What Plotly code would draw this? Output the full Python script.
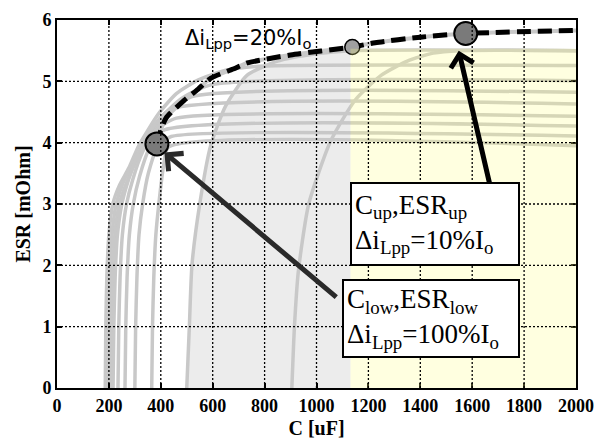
import plotly.graph_objects as go

# ---- data ----
curve_A_C = [186, 188, 192, 200, 215, 240, 277, 315, 391, 460, 543, 650, 800, 2000]
curve_A_E = [0, 1, 1.8, 2.5, 3.0, 3.3, 3.59, 3.95, 4.47, 4.8, 5.02, 5.18, 5.25, 5.26]
curve_B_C = [196, 199, 204, 212, 228, 255, 290, 330, 400, 480, 600, 2000]
curve_B_E = [0, 1, 1.8, 2.5, 3.0, 3.35, 3.65, 3.95, 4.4, 4.72, 4.95, 5.01]
curve_C_C = [206, 209, 214, 223, 240, 268, 305, 350, 420, 520, 2000]
curve_C_E = [0, 1, 1.8, 2.5, 3.0, 3.35, 3.7, 4.05, 4.45, 4.75, 4.82]
curve_D_C = [216, 219, 224, 233, 250, 276, 312, 360, 440, 2000]
curve_D_E = [0, 1, 1.8, 2.5, 3.0, 3.4, 3.8, 4.2, 4.55, 4.63]
curve_E_C = [235, 238, 243, 252, 268, 292, 330, 380, 460, 2000]
curve_E_E = [0, 1, 1.8, 2.5, 3.0, 3.4, 3.85, 4.2, 4.4, 4.43]
curve_F_C = [262, 265, 270, 279, 294, 318, 355, 410, 2000]
curve_F_E = [0, 1, 1.8, 2.5, 3.0, 3.45, 3.9, 4.2, 4.27]
curve_G_C = [300, 303, 308, 316, 330, 352, 390, 440, 2000]
curve_G_E = [0, 1, 1.8, 2.5, 3.0, 3.5, 3.95, 4.1, 4.11]
curve_H_C = [365, 368, 373, 381, 395, 410, 430, 2000]
curve_H_E = [0, 1, 1.8, 2.5, 3.1, 3.6, 3.93, 3.95]
curve_I_C = [500, 510, 520, 550, 592, 650, 733, 850, 1000, 1131, 2000]
curve_I_E = [0, 1, 2, 3, 3.95, 4.6, 5.1, 5.33, 5.45, 5.5, 5.5]
curve_J_C = [905, 915, 930, 970, 1055, 1150, 1250, 1350, 1450, 1550, 2000]
curve_J_E = [0, 1, 1.9, 3.0, 4.03, 4.7, 5.1, 5.33, 5.46, 5.5, 5.5]

grey_region_C = [500, 510, 520, 550, 592, 650, 733, 850, 1000, 1131, 1131]
grey_region_E = [0, 1, 2, 3, 3.95, 4.6, 5.1, 5.33, 5.45, 5.5, 0]

yellow_C = [1131, 2000]
yellow_E = [0, 5.53]

dashed_C = [385, 392, 420, 490, 543, 592, 679, 733, 900, 1138, 1226, 1400, 1575, 2000]
dashed_E = [3.98, 4.1, 4.4, 4.69, 4.87, 5.05, 5.2, 5.3, 5.43, 5.56, 5.63, 5.72, 5.78, 5.83]

point_low = (385, 3.98)
point_mid = (1138, 5.56)
point_up = (1575, 5.78)

x_ticks = [0, 200, 400, 600, 800, 1000, 1200, 1400, 1600, 1800, 2000]
y_ticks = [0, 1, 2, 3, 4, 5, 6]

curves = [(curve_A_C, curve_A_E), (curve_B_C, curve_B_E), (curve_C_C, curve_C_E),
          (curve_D_C, curve_D_E), (curve_E_C, curve_E_E), (curve_F_C, curve_F_E),
          (curve_G_C, curve_G_E), (curve_H_C, curve_H_E), (curve_I_C, curve_I_E),
          (curve_J_C, curve_J_E)]

fig = go.Figure()

# grey feasible region
path = "M " + " L ".join(f"{c},{e}" for c, e in zip(grey_region_C, grey_region_E)) + " Z"
fig.add_shape(type="path", path=path, xref="x", yref="y", layer="below",
              fillcolor="#ececec", line=dict(width=0))

for cx, cy in curves:
    fig.add_trace(go.Scatter(x=cx, y=cy, mode="lines",
                             line=dict(color="#c8c8c8", width=3.5, shape="spline", smoothing=0.6)))

fig.add_shape(type="rect", x0=yellow_C[0], x1=yellow_C[1], y0=yellow_E[0], y1=yellow_E[1],
              xref="x", yref="y", layer="above", line=dict(width=0),
              fillcolor="rgba(255,255,131,0.25)")

# dotted grid drawn over curves and fills
for xv in x_ticks[1:-1]:
    fig.add_shape(type="line", x0=xv, x1=xv, y0=y_ticks[0], y1=y_ticks[-1], xref="x", yref="y",
                  layer="above", line=dict(color="black", width=1.3, dash="2px,2px"))
for yv in y_ticks[1:-1]:
    fig.add_shape(type="line", x0=x_ticks[0], x1=x_ticks[-1], y0=yv, y1=yv, xref="x", yref="y",
                  layer="above", line=dict(color="black", width=1.3, dash="2px,2px"))

# dashed envelope and points (on top)
fig.add_trace(go.Scatter(x=dashed_C, y=dashed_E, mode="lines",
                         line=dict(color="#c8c8c8", width=4, shape="spline", smoothing=0.6)))
fig.add_trace(go.Scatter(x=dashed_C, y=dashed_E, mode="lines",
                         line=dict(color="black", width=5, dash="14px,7px", shape="spline", smoothing=0.6)))
fig.add_trace(go.Scatter(x=[point_low[0], point_up[0]], y=[point_low[1], point_up[1]], mode="markers",
                         marker=dict(size=23, color="#7a7a7a", line=dict(color="black", width=2))))
fig.add_trace(go.Scatter(x=[point_mid[0]], y=[point_mid[1]], mode="markers",
                         marker=dict(size=15, color="#a0a0a0", line=dict(color="black", width=1.5))))

serif = "Liberation Serif"
# arrows
fig.add_annotation(x=1548, y=5.5, ax=1670, ay=3.28, xref="x", yref="y", axref="x", ayref="y",
                   text="", showarrow=True, arrowhead=4, arrowsize=0.9, arrowwidth=5, arrowcolor="black")
fig.add_annotation(x=414, y=3.84, ax=1082, ay=1.46, xref="x", yref="y", axref="x", ayref="y",
                   text="", showarrow=True, arrowhead=4, arrowsize=0.9, arrowwidth=5, arrowcolor="#2a2a2a")

# label boxes
fig.add_annotation(x=1455, y=2.67, xref="x", yref="y", showarrow=False,
                   text="C<sub>up</sub>,ESR<sub>up</sub><br>Δi<sub>Lpp</sub>=10%I<sub>o</sub>",
                   align="left", font=dict(family=serif, size=27, color="black"),
                   bgcolor="white", bordercolor="black", borderwidth=2, borderpad=3,
                   width=160, height=74)
fig.add_annotation(x=1440, y=1.14, xref="x", yref="y", showarrow=False,
                   text="C<sub>low</sub>,ESR<sub>low</sub><br>Δi<sub>Lpp</sub>=100%I<sub>o</sub>",
                   align="left", font=dict(family=serif, size=27, color="black"),
                   bgcolor="white", bordercolor="black", borderwidth=2, borderpad=3,
                   width=168, height=69)

fig.add_annotation(x=486, y=5.69, xref="x", yref="y", xanchor="left", yanchor="middle",
                   showarrow=False, text="Δi<sub>Lpp</sub>=20%I<sub>o</sub>",
                   font=dict(family="DejaVu Sans", size=21, color="black"))

axis_common = dict(showline=True, linecolor="black", linewidth=2, mirror="ticks",
                   ticks="inside", ticklen=5, tickcolor="black", tickwidth=1.5,
                   showgrid=False, zeroline=False,
                   tickfont=dict(family=serif, size=18, color="black"))

fig.update_xaxes(range=[0, 2000], tickvals=x_ticks, ticktext=[f"<b>{v}</b>" for v in x_ticks],
                 title=dict(text="<b>C [uF]</b>", font=dict(family=serif, size=20, color="black"),
                            standoff=6),
                 **axis_common)
fig.update_yaxes(range=[0, 6], tickvals=y_ticks, ticktext=[f"<b>{v}</b>" for v in y_ticks],
                 title=dict(text="<b>ESR [mOhm]</b>", font=dict(family=serif, size=20, color="black"),
                            standoff=6),
                 **axis_common)

fig.update_layout(width=604, height=446, margin=dict(l=57, r=20, t=10, b=55),
                  plot_bgcolor="white", paper_bgcolor="white", showlegend=False)

fig.write_html("out.html")
